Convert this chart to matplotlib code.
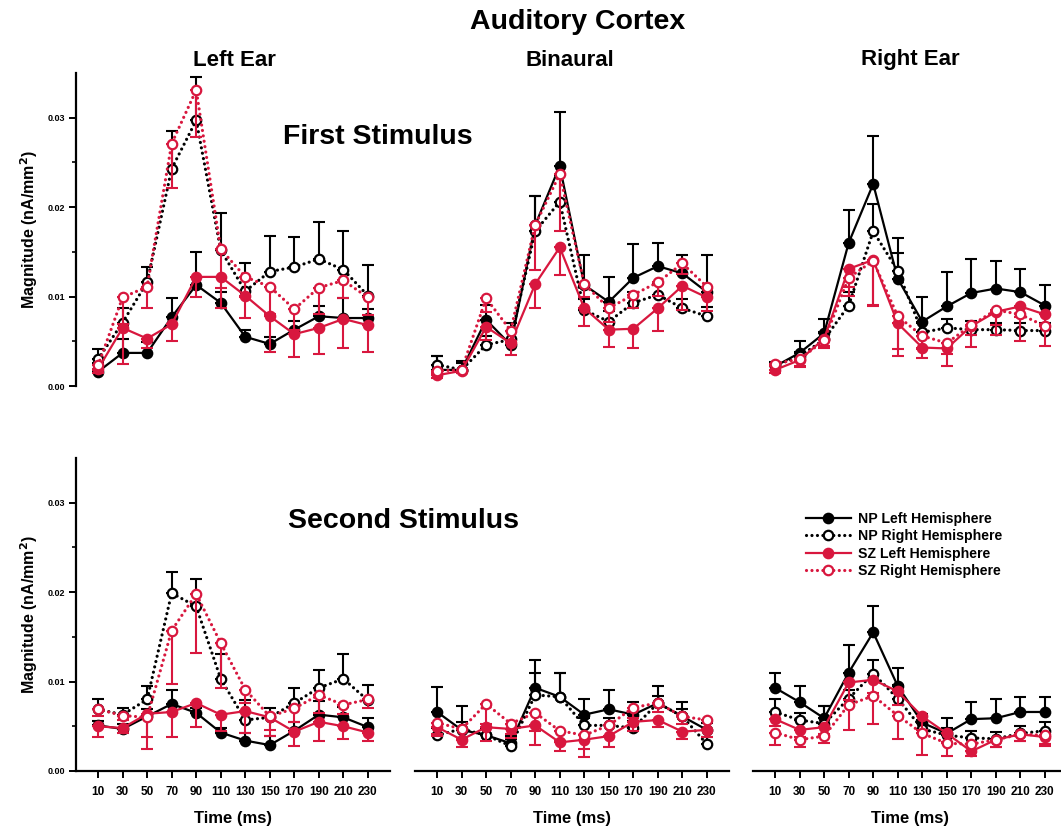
import matplotlib
matplotlib.use("Agg")
import matplotlib.pyplot as plt
import numpy as np

plt.rcParams["font.family"] = ["Liberation Sans", "DejaVu Sans"]
plt.rcParams["font.weight"] = "bold"
plt.rcParams["lines.dash_capstyle"] = "round"

times = [10, 30, 50, 70, 90, 110, 130, 150, 170, 190, 210, 230]
series_labels = ["NP Left Hemisphere", "NP Right Hemisphere",
                 "SZ Left Hemisphere", "SZ Right Hemisphere"]
ear_titles = ["Left Ear", "Binaural", "Right Ear"]
stim_titles = ["First Stimulus", "Second Stimulus"]
ytick_labels = ["0.00", "0.01", "0.02", "0.03"]

# ---- First stimulus, left ear ----
f_left_np_lh = [0.0016, 0.0037, 0.0037, 0.0077, 0.0113, 0.0093, 0.0055, 0.0047, 0.0063, 0.0078, 0.0076, 0.0076]
f_left_np_lh_err = [0.0010, 0.0015, 0.0012, 0.0021, 0.0037, 0.0012, 0.0008, 0.0008, 0.0010, 0.0012, 0.0022, 0.0010]
f_left_np_rh = [0.0030, 0.0071, 0.0116, 0.0243, 0.0297, 0.0152, 0.0106, 0.0128, 0.0133, 0.0142, 0.0130, 0.0101]
f_left_np_rh_err = [0.0011, 0.0016, 0.0017, 0.0042, 0.0048, 0.0042, 0.0031, 0.0040, 0.0034, 0.0041, 0.0043, 0.0034]
f_left_sz_lh = [0.0019, 0.0065, 0.0053, 0.0069, 0.0122, 0.0122, 0.0101, 0.0078, 0.0058, 0.0065, 0.0075, 0.0068]
f_left_sz_lh_err = [0.0004, 0.0040, 0.0010, 0.0019, 0.0023, 0.0035, 0.0025, 0.0040, 0.0026, 0.0029, 0.0032, 0.0030]
f_left_sz_rh = [0.0023, 0.0099, 0.0111, 0.0271, 0.0331, 0.0153, 0.0122, 0.0111, 0.0086, 0.0110, 0.0118, 0.0099]
f_left_sz_rh_err = [0.0005, 0.0030, 0.0024, 0.0050, 0.0053, 0.0043, 0.0022, 0.0030, 0.0023, 0.0030, 0.0020, 0.0020]

# ---- First stimulus, binaural ----
f_bin_np_lh = [0.0018, 0.0018, 0.0074, 0.0046, 0.0180, 0.0246, 0.0113, 0.0094, 0.0121, 0.0134, 0.0126, 0.0105]
f_bin_np_lh_err = [0.0016, 0.0010, 0.0017, 0.0024, 0.0032, 0.0060, 0.0034, 0.0028, 0.0038, 0.0026, 0.0020, 0.0042]
f_bin_np_rh = [0.0024, 0.0018, 0.0046, 0.0052, 0.0173, 0.0206, 0.0085, 0.0072, 0.0093, 0.0102, 0.0087, 0.0078]
f_bin_np_rh_err = [0.0010, 0.0008, 0.0010, 0.0010, 0.0039, 0.0030, 0.0012, 0.0012, 0.0012, 0.0012, 0.0010, 0.0010]
f_bin_sz_lh = [0.0012, 0.0017, 0.0066, 0.0048, 0.0114, 0.0155, 0.0087, 0.0063, 0.0064, 0.0087, 0.0112, 0.0099]
f_bin_sz_lh_err = [0.0003, 0.0003, 0.0015, 0.0013, 0.0027, 0.0031, 0.0020, 0.0019, 0.0022, 0.0026, 0.0027, 0.0015]
f_bin_sz_rh = [0.0017, 0.0018, 0.0098, 0.0062, 0.0180, 0.0237, 0.0114, 0.0087, 0.0102, 0.0116, 0.0137, 0.0111]
f_bin_sz_rh_err = [0.0003, 0.0003, 0.0015, 0.0012, 0.0050, 0.0064, 0.0015, 0.0015, 0.0015, 0.0015, 0.0012, 0.0012]

# ---- First stimulus, right ear ----
f_right_np_lh = [0.0022, 0.0037, 0.0059, 0.0160, 0.0226, 0.0120, 0.0072, 0.0089, 0.0104, 0.0109, 0.0105, 0.0090]
f_right_np_lh_err = [0.0005, 0.0013, 0.0016, 0.0037, 0.0053, 0.0045, 0.0028, 0.0038, 0.0038, 0.0031, 0.0026, 0.0023]
f_right_np_rh = [0.0023, 0.0033, 0.0052, 0.0090, 0.0173, 0.0129, 0.0060, 0.0065, 0.0063, 0.0063, 0.0062, 0.0062]
f_right_np_rh_err = [0.0003, 0.0005, 0.0008, 0.0015, 0.0030, 0.0020, 0.0010, 0.0010, 0.0010, 0.0008, 0.0008, 0.0008]
f_right_sz_lh = [0.0018, 0.0029, 0.0053, 0.0131, 0.0141, 0.0070, 0.0043, 0.0042, 0.0067, 0.0083, 0.0089, 0.0080]
f_right_sz_lh_err = [0.0003, 0.0008, 0.0008, 0.0020, 0.0050, 0.0037, 0.0012, 0.0020, 0.0010, 0.0015, 0.0012, 0.0012]
f_right_sz_rh = [0.0025, 0.0030, 0.0051, 0.0121, 0.0140, 0.0078, 0.0056, 0.0048, 0.0068, 0.0085, 0.0080, 0.0067]
f_right_sz_rh_err = [0.0003, 0.0008, 0.0008, 0.0020, 0.0050, 0.0037, 0.0015, 0.0012, 0.0024, 0.0028, 0.0030, 0.0022]

# ---- Second stimulus, left ear ----
s_left_np_lh = [0.0051, 0.0047, 0.0061, 0.0075, 0.0065, 0.0043, 0.0034, 0.0029, 0.0045, 0.0063, 0.0060, 0.0049]
s_left_np_lh_err = [0.0005, 0.0005, 0.0008, 0.0016, 0.0005, 0.0005, 0.0008, 0.0010, 0.0010, 0.0015, 0.0012, 0.0010]
s_left_np_rh = [0.0069, 0.0063, 0.0080, 0.0199, 0.0184, 0.0103, 0.0057, 0.0060, 0.0076, 0.0093, 0.0103, 0.0079]
s_left_np_rh_err = [0.0011, 0.0008, 0.0015, 0.0024, 0.0031, 0.0028, 0.0022, 0.0011, 0.0017, 0.0020, 0.0028, 0.0017]
s_left_sz_lh = [0.0050, 0.0048, 0.0064, 0.0066, 0.0076, 0.0063, 0.0067, 0.0060, 0.0044, 0.0055, 0.0050, 0.0043]
s_left_sz_lh_err = [0.0012, 0.0005, 0.0039, 0.0028, 0.0027, 0.0018, 0.0024, 0.0021, 0.0016, 0.0021, 0.0014, 0.0010]
s_left_sz_rh = [0.0069, 0.0062, 0.0060, 0.0157, 0.0198, 0.0143, 0.0091, 0.0061, 0.0070, 0.0085, 0.0074, 0.0080]
s_left_sz_rh_err = [0.0008, 0.0005, 0.0022, 0.0060, 0.0066, 0.0050, 0.0015, 0.0015, 0.0015, 0.0020, 0.0010, 0.0010]

# ---- Second stimulus, binaural ----
s_bin_np_lh = [0.0066, 0.0046, 0.0040, 0.0031, 0.0093, 0.0083, 0.0063, 0.0069, 0.0063, 0.0076, 0.0061, 0.0046]
s_bin_np_lh_err = [0.0028, 0.0027, 0.0008, 0.0008, 0.0031, 0.0027, 0.0018, 0.0022, 0.0014, 0.0019, 0.0016, 0.0008]
s_bin_np_rh = [0.0040, 0.0047, 0.0040, 0.0028, 0.0085, 0.0083, 0.0051, 0.0051, 0.0048, 0.0076, 0.0061, 0.0030]
s_bin_np_rh_err = [0.0008, 0.0008, 0.0008, 0.0008, 0.0025, 0.0027, 0.0008, 0.0008, 0.0008, 0.0008, 0.0008, 0.0008]
s_bin_sz_lh = [0.0049, 0.0035, 0.0049, 0.0047, 0.0051, 0.0032, 0.0035, 0.0039, 0.0055, 0.0057, 0.0044, 0.0046]
s_bin_sz_lh_err = [0.0010, 0.0008, 0.0015, 0.0010, 0.0022, 0.0010, 0.0019, 0.0012, 0.0010, 0.0008, 0.0008, 0.0008]
s_bin_sz_rh = [0.0054, 0.0047, 0.0075, 0.0053, 0.0065, 0.0045, 0.0040, 0.0051, 0.0071, 0.0076, 0.0061, 0.0057]
s_bin_sz_rh_err = [0.0013, 0.0010, 0.0022, 0.0012, 0.0020, 0.0012, 0.0015, 0.0012, 0.0012, 0.0010, 0.0008, 0.0010]

# ---- Second stimulus, right ear ----
s_right_np_lh = [0.0093, 0.0077, 0.0059, 0.0110, 0.0155, 0.0095, 0.0054, 0.0042, 0.0058, 0.0059, 0.0066, 0.0066]
s_right_np_lh_err = [0.0017, 0.0018, 0.0014, 0.0031, 0.0029, 0.0020, 0.0010, 0.0017, 0.0019, 0.0021, 0.0017, 0.0017]
s_right_np_rh = [0.0066, 0.0057, 0.0053, 0.0081, 0.0109, 0.0081, 0.0047, 0.0040, 0.0037, 0.0036, 0.0042, 0.0045]
s_right_np_rh_err = [0.0015, 0.0008, 0.0020, 0.0010, 0.0015, 0.0015, 0.0010, 0.0008, 0.0008, 0.0008, 0.0008, 0.0010]
s_right_sz_lh = [0.0058, 0.0046, 0.0049, 0.0099, 0.0102, 0.0089, 0.0061, 0.0042, 0.0022, 0.0035, 0.0041, 0.0038]
s_right_sz_lh_err = [0.0008, 0.0008, 0.0008, 0.0020, 0.0015, 0.0015, 0.0015, 0.0010, 0.0005, 0.0008, 0.0008, 0.0008]
s_right_sz_rh = [0.0043, 0.0035, 0.0039, 0.0074, 0.0084, 0.0062, 0.0042, 0.0031, 0.0030, 0.0035, 0.0041, 0.0040]
s_right_sz_rh_err = [0.0014, 0.0008, 0.0008, 0.0028, 0.0031, 0.0026, 0.0024, 0.0014, 0.0008, 0.0008, 0.0008, 0.0012]

panels = [
    [  # first stimulus row
        [(f_left_np_lh, f_left_np_lh_err), (f_left_np_rh, f_left_np_rh_err),
         (f_left_sz_lh, f_left_sz_lh_err), (f_left_sz_rh, f_left_sz_rh_err)],
        [(f_bin_np_lh, f_bin_np_lh_err), (f_bin_np_rh, f_bin_np_rh_err),
         (f_bin_sz_lh, f_bin_sz_lh_err), (f_bin_sz_rh, f_bin_sz_rh_err)],
        [(f_right_np_lh, f_right_np_lh_err), (f_right_np_rh, f_right_np_rh_err),
         (f_right_sz_lh, f_right_sz_lh_err), (f_right_sz_rh, f_right_sz_rh_err)],
    ],
    [  # second stimulus row
        [(s_left_np_lh, s_left_np_lh_err), (s_left_np_rh, s_left_np_rh_err),
         (s_left_sz_lh, s_left_sz_lh_err), (s_left_sz_rh, s_left_sz_rh_err)],
        [(s_bin_np_lh, s_bin_np_lh_err), (s_bin_np_rh, s_bin_np_rh_err),
         (s_bin_sz_lh, s_bin_sz_lh_err), (s_bin_sz_rh, s_bin_sz_rh_err)],
        [(s_right_np_lh, s_right_np_lh_err), (s_right_np_rh, s_right_np_rh_err),
         (s_right_sz_lh, s_right_sz_lh_err), (s_right_sz_rh, s_right_sz_rh_err)],
    ],
]

BLACK = "#000000"
RED = "#d8173e"
DOTS = (0, (0.01, 1.7))
# colour, filled?, linestyle, error bar direction (+1 up, -1 down)
styles = [
    (BLACK, True, "-", 1),
    (BLACK, False, DOTS, 1),
    (RED, True, "-", -1),
    (RED, False, DOTS, -1),
]

W, H = 1061, 832
fig = plt.figure(figsize=(W / 100, H / 100), dpi=100)

col_left = [76, 415, 753]
ax_w = 314
row_bottom = [386, 771]
ax_h = 313

handles = []
for r in range(2):
    for c in range(3):
        ax = fig.add_axes([col_left[c] / W, 1 - row_bottom[r] / H, ax_w / W, ax_h / H])
        ax.set_xlim(-8, 248)
        ax.set_ylim(0, 0.035)
        for k, (vals, errs) in enumerate(panels[r][c]):
            color, filled, ls, direction = styles[k]
            v = np.array(vals)
            e = np.array(errs)
            z = np.zeros_like(e)
            yerr = [z, e] if direction > 0 else [e, z]
            ax.errorbar(times, v, yerr=yerr, fmt="none", ecolor=color,
                        elinewidth=1.5, capsize=4.5, capthick=1.5, zorder=2 + k)
            ln, = ax.plot(times, v, linestyle=ls, color=color,
                          linewidth=2.3 if filled is False else 1.6,
                          marker="o", markersize=6.8,
                          markerfacecolor=color if filled else "white",
                          markeredgecolor=color, markeredgewidth=1.6,
                          zorder=3 + k, label=series_labels[k])
            if r == 0 and c == 0:
                handles.append(ln)

        for s in ["top", "right"]:
            ax.spines[s].set_visible(False)
        ax.patch.set_alpha(0)
        if c == 0:
            ax.spines["left"].set_linewidth(1.6)
            ax.set_yticks([0, 0.01, 0.02, 0.03])
            ax.set_yticklabels(ytick_labels, fontsize=6.5, fontweight="bold")
            ax.set_yticks([0.005, 0.015, 0.025], minor=True)
            ax.tick_params(axis="y", which="major", length=5, width=1.4, pad=3)
            ax.tick_params(axis="y", which="minor", length=3, width=1.2)
            ax.set_ylabel("Magnitude (nA/mm$^\\mathbf{2}$)", fontsize=11.5,
                          fontweight="bold", labelpad=5)
        else:
            ax.spines["left"].set_visible(False)
            ax.set_yticks([])
        if r == 1:
            ax.spines["bottom"].set_linewidth(1.6)
            ax.set_xticks(times)
            ax.set_xticklabels([str(t) for t in times], fontsize=8.5, fontweight="bold")
            ax.tick_params(axis="x", length=5, width=1.4, pad=6)
            ax.set_xlabel("Time (ms)", fontsize=12, fontweight="bold", labelpad=9)
        else:
            ax.spines["bottom"].set_visible(False)
            ax.set_xticks([])

fig.text(578 / W, 1 - 22 / H, "Auditory Cortex", ha="center", va="center",
         fontsize=20.5, fontweight="bold")
for x, t in zip([234, 570, 910], ear_titles):
    fig.text(x / W, 1 - 60 / H, t, ha="center", va="center", fontsize=16, fontweight="bold")
fig.text(378 / W, 1 - 137 / H, stim_titles[0], ha="center", va="center",
         fontsize=20.5, fontweight="bold")
fig.text(403 / W, 1 - 521 / H, stim_titles[1], ha="center", va="center",
         fontsize=20.5, fontweight="bold")

fig.legend(handles=handles, labels=series_labels, loc="upper left",
           bbox_to_anchor=(800 / W, 1 - 506 / H), frameon=False,
           prop={"size": 10.2, "weight": "bold"}, handlelength=3.2,
           handletextpad=0.5, labelspacing=0.25, borderaxespad=0)

fig.savefig("out.png", dpi=100)
